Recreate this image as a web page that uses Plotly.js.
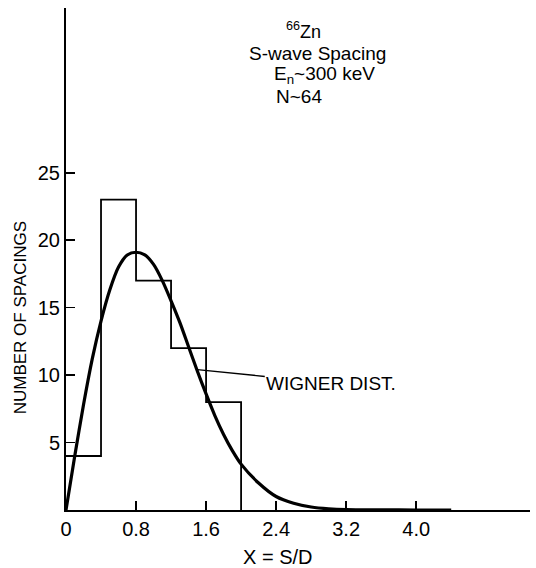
<!DOCTYPE html>
<html>
<head>
<meta charset="utf-8">
<script src="https://cdn.plot.ly/plotly-3.0.1.min.js"></script>
<style>
  html, body { margin: 0; padding: 0; background: #fff; }
  #chart { width: 536px; height: 568px; }
</style>
</head>
<body>
<div id="chart"></div>
<script>
// Histogram of s-wave level spacings (bin left edges and counts, bin width 0.4)
const binLeft = [0, 0.4, 0.8, 1.2, 1.6];
const binCounts = [4, 23, 17, 12, 8];
const binWidth = 0.4;

// Wigner distribution curve, normalised to the histogram
const wignerX = [0, 0.1, 0.2, 0.3, 0.4, 0.5, 0.6, 0.7, 0.8, 0.9, 1.0, 1.1, 1.2, 1.3, 1.4,
                 1.5, 1.6, 1.7, 1.8, 1.9, 2.0, 2.2, 2.4, 2.6, 2.8, 3.0, 3.2, 3.6, 4.0, 4.4];
const wignerY = [0, 4.0, 7.8, 11.2, 14.0, 16.3, 18.0, 18.9, 19.1, 18.9, 18.2, 17.0, 15.5, 13.9, 12.1,
                 10.3, 8.6, 7.0, 5.6, 4.4, 3.4, 2.0, 1.0, 0.5, 0.22, 0.09, 0.03, 0.01, 0, 0];

// Axis ticks
const xTickVals = [0, 0.8, 1.6, 2.4, 3.2, 4.0];
const xTickText = ['0', '0.8', '1.6', '2.4', '3.2', '4.0'];
const yTickVals = [5, 10, 15, 20, 25];
const yTickText = ['5', '10', '15', '20', '25'];

const FONT = '"Liberation Sans", Arial, sans-serif';

// Step outline of the histogram: each bin's top, closed down to zero after the last bin
const stepX = binLeft.concat([binLeft[binLeft.length - 1] + binWidth]);
const stepY = binCounts.concat([0]);

const traces = [
  {
    type: 'scatter',
    mode: 'lines',
    x: stepX,
    y: stepY,
    line: { color: '#000', width: 1.8, shape: 'hv' },
    hoverinfo: 'x+y'
  },
  {
    type: 'scatter',
    mode: 'lines',
    x: wignerX,
    y: wignerY,
    line: { color: '#000', width: 3.2, shape: 'spline', smoothing: 0.8 },
    hoverinfo: 'x+y'
  }
];

const layout = {
  width: 536,
  height: 568,
  margin: { l: 66, r: 6, t: 8, b: 58 },
  paper_bgcolor: '#fff',
  plot_bgcolor: '#fff',
  showlegend: false,
  font: { family: FONT, color: '#000', size: 19 },
  xaxis: {
    range: [0, 5.3],
    showline: true, linecolor: '#000', linewidth: 2.4,
    showgrid: false, zeroline: false,
    ticks: 'inside', ticklen: 9, tickwidth: 1.8, tickcolor: '#000',
    tickmode: 'array', tickvals: xTickVals, ticktext: xTickText,
    tickfont: { family: FONT, size: 20, color: '#000' }
  },
  yaxis: {
    range: [0, 37.2],
    showline: true, linecolor: '#000', linewidth: 2,
    showgrid: false, zeroline: false,
    ticks: 'inside', ticklen: 9, tickwidth: 1.8, tickcolor: '#000',
    tickmode: 'array', tickvals: yTickVals, ticktext: yTickText,
    tickfont: { family: FONT, size: 20, color: '#000' }
  },
  annotations: [
    { xref: 'paper', yref: 'paper', x: 0.455, y: -0.093, xanchor: 'center', yanchor: 'middle',
      text: 'X = S/D', showarrow: false, font: { family: FONT, size: 20 } },
    { xref: 'paper', yref: 'paper', x: -0.099, y: 0.382, xanchor: 'center', yanchor: 'middle',
      text: 'NUMBER OF SPACINGS', textangle: -90, showarrow: false, font: { family: FONT, size: 17 } },
    { xref: 'x', yref: 'y', x: 2.49, y: 35.5, xanchor: 'left', yanchor: 'middle',
      text: '<sup>66</sup>Zn', showarrow: false, font: { family: FONT, size: 18 } },
    { xref: 'x', yref: 'y', x: 2.07, y: 33.85, xanchor: 'left', yanchor: 'middle',
      text: 'S-wave Spacing', showarrow: false, font: { family: FONT, size: 19 } },
    { xref: 'x', yref: 'y', x: 2.35, y: 32.2, xanchor: 'left', yanchor: 'middle',
      text: 'E<sub>n</sub>~300 keV', showarrow: false, font: { family: FONT, size: 19 } },
    { xref: 'x', yref: 'y', x: 2.38, y: 30.65, xanchor: 'left', yanchor: 'middle',
      text: 'N~64', showarrow: false, font: { family: FONT, size: 19 } },
    { xref: 'x', yref: 'y', x: 1.5, y: 10.4, axref: 'x', ayref: 'y', ax: 3.03, ay: 9.4,
      text: 'WIGNER DIST.', showarrow: true, arrowhead: 0, arrowwidth: 1.4, arrowcolor: '#000',
      font: { family: FONT, size: 19 } }
  ]
};

Plotly.newPlot('chart', traces, layout, { displayModeBar: false, staticPlot: true });
</script>
</body>
</html>
